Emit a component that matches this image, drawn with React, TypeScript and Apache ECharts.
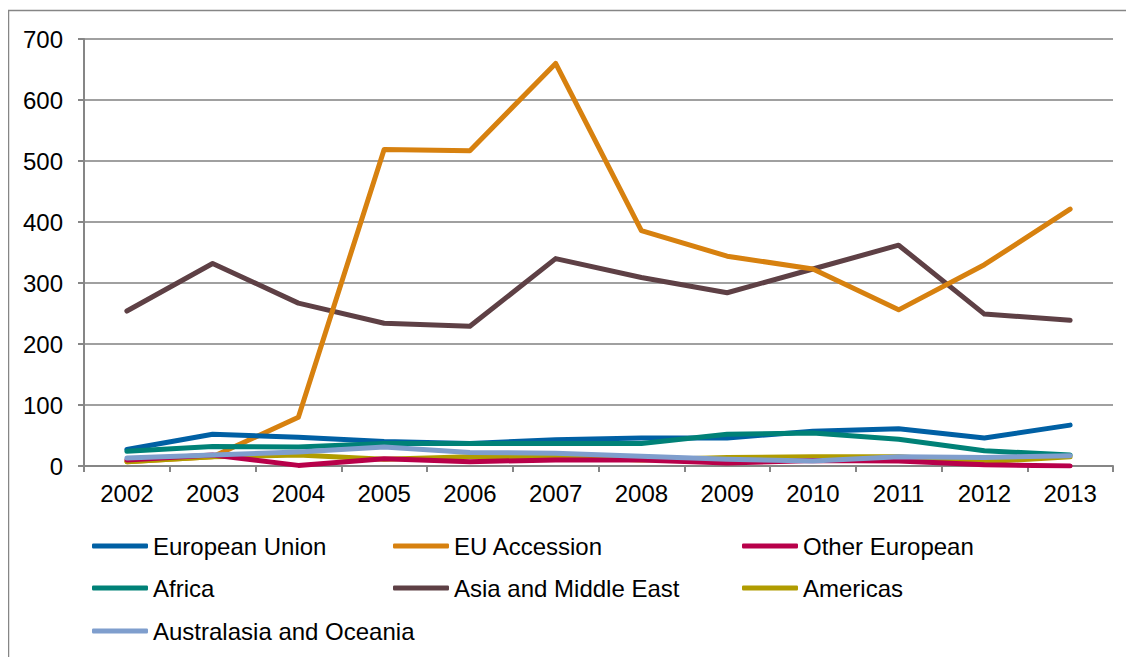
import React, { useEffect, useRef } from "react";
import * as echarts from "echarts";

const years = ["2002", "2003", "2004", "2005", "2006", "2007", "2008", "2009", "2010", "2011", "2012", "2013"];
const europeanUnion = [27, 52, 47, 40, 37, 43, 46, 46, 57, 61, 46, 67];
const euAccession = [7, 15, 80, 519, 517, 660, 386, 344, 323, 256, 330, 421];
const otherEuropean = [10, 18, 1, 12, 7, 10, 10, 5, 9, 8, 2, 0];
const africa = [24, 32, 31, 37, 37, 37, 37, 52, 54, 44, 25, 18];
const asiaMiddleEast = [254, 332, 267, 234, 229, 340, 309, 284, 323, 362, 249, 239];
const americas = [7, 15, 18, 11, 15, 15, 10, 14, 15, 15, 7, 15];
const australasia = [13, 18, 23, 31, 22, 21, 16, 11, 8, 15, 14, 17];

const seriesDefs = [
  { name: "European Union", data: europeanUnion, color: "#0060A4" },
  { name: "EU Accession", data: euAccession, color: "#D7810F" },
  { name: "Other European", data: otherEuropean, color: "#B8004A" },
  { name: "Africa", data: africa, color: "#008177" },
  { name: "Asia and Middle East", data: asiaMiddleEast, color: "#5E4045" },
  { name: "Americas", data: americas, color: "#B09C00" },
  { name: "Australasia and Oceania", data: australasia, color: "#7F9ECD" },
];
// draw order: make lower lines overlay as in reference
const drawOrder = [4, 1, 0, 3, 5, 2, 6];

const legendPos = [
  [84, 525], [385, 525], [734, 525],
  [84, 567], [385, 567], [734, 567],
  [84, 610],
];

export default function App() {
  const ref = useRef<HTMLDivElement>(null);
  useEffect(() => {
    if (!ref.current) return;
    const chart = echarts.init(ref.current, null, { renderer: "svg" });
    const font = "'Liberation Sans', Arial, sans-serif";
    chart.setOption({
      animation: false,
      textStyle: { fontFamily: font },
      graphic: [
        {
          type: "rect",
          shape: { x: 0.5, y: 2.5, width: 1140, height: 700 },
          style: { fill: "none", stroke: "#868686", lineWidth: 1.5 },
          silent: true,
        },
      ],
      grid: { left: 76, right: 21, top: 31, bottom: 202, containLabel: false },
      xAxis: {
        type: "category",
        data: years,
        boundaryGap: true,
        axisLine: { lineStyle: { color: "#868686", width: 2 } },
        axisTick: { show: true, length: 6, alignWithLabel: false, lineStyle: { color: "#868686", width: 2 } },
        axisLabel: { color: "#000", fontSize: 24, fontFamily: font, margin: 15 },
      },
      yAxis: {
        type: "value",
        min: 0,
        max: 700,
        interval: 100,
        axisLine: { show: true, lineStyle: { color: "#868686", width: 2 } },
        axisTick: { show: true, length: 6, lineStyle: { color: "#868686", width: 2 } },
        splitLine: { lineStyle: { color: "#A0A0A0", width: 2 } },
        axisLabel: { color: "#000", fontSize: 24, fontFamily: font, margin: 21 },
      },
      legend: seriesDefs.map((s, i) => ({
        left: legendPos[i][0],
        top: legendPos[i][1],
        data: [s.name],
        itemWidth: 56,
        itemHeight: 5,
        itemGap: 0,
        icon: "roundRect",
        selectedMode: false,
        textStyle: { fontSize: 24, lineHeight: 26, color: "#000", fontFamily: font, padding: [0, 0, 0, 0] },
        padding: 0,
      })),
      series: drawOrder.map((i) => {
        const s = seriesDefs[i];
        return {
          name: s.name,
          type: "line",
          data: s.data,
          color: s.color,
          symbol: "none",
          lineStyle: { width: 5, color: s.color, cap: "round", join: "round" },
          itemStyle: { color: s.color },
        };
      }),
    });
    return () => chart.dispose();
  }, []);
  return <div ref={ref} style={{ width: 1126, height: 660 }} />;
}
